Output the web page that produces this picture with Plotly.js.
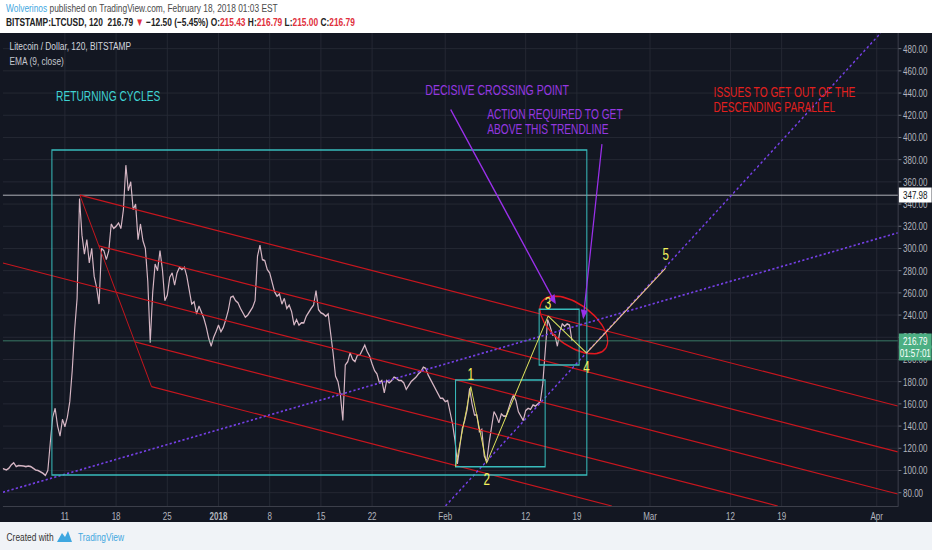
<!DOCTYPE html>
<html>
<head>
<meta charset="utf-8">
<script src="https://cdn.plot.ly/plotly-3.0.1.min.js"></script>
<style>
html, body { margin:0; padding:0; overflow:hidden; background:#131722; width:932px; height:550px; }
#wrap { width:1280px; height:550px; transform: scaleX(0.728125); transform-origin: 0 0; }
#chart { width:1280px; height:550px; }
</style>
</head>
<body>
<div id="wrap"><div id="chart"></div></div>
<script>
// ---------------- DATA ----------------
// LTC/USD closes, one value every 8 hours starting 2017-12-02 00:00
const priceStartUTC = Date.UTC(2017, 11, 2, 0, 0);
const priceStepHours = 8;
const ltcClose = [
  103,102,101,100.5,102,105,107,103.5,104.5,104.5,
  104,103.5,104,103.5,102,100.5,100,99,97.5,95.5,
  100,125,148,156,140,131,146,139.5,148,162,
  190,227,255,345,312,295,308,287,300,275,
  265,250,300,298,290,298,322,318,320,323,
  318,335,375,352,360,335,340,308,322,307,
  300,270,215,260,286,280,298,281,253,258,
  274,278,267,278,283,281,283,275,262,250,
  252,241,248,243,237,229,219,212,220,225,
  231,225,229,236,244,256,257,253,251,246,
  242,238,240,244,247,253,293,303,290,289,
  281,278,270,261,257,259,250,255,246,249,
  243,231,236,231,233,233,239,243,246,249,
  262,245,242,241,239,241,225,206,185,180,
  168,145,195,198,206,200,198,204,204,209,
  213,207,203,196,190,187,179,181,170,181,
  179,181,184,183,181,181,179,173,177,180,
  182,184,187,189,193,192,186,182,178,174,
  169,165,165,162,163,153,142,127,106,122,
  138,145,155,174,160,150,150,135,137,113,
  108,125,138,153,149,143,151,149,149,156,
  163,168,163,153,149,145,154,156,155,159,
  158,160,162,178,205,236,230,222,222,212,
  225,232,230,232,231,216.79
];
const lastPrice = 216.79;
const lastCountdown = '01:57:01';
const refPrice = 347.98;

const xTickVals = ['2017-12-11','2017-12-18','2017-12-25','2018-01-01','2018-01-08','2018-01-15','2018-01-22',
                   '2018-02-01','2018-02-12','2018-02-19','2018-03-01','2018-03-12','2018-03-19','2018-04-01'];
const xTickText = ['11','18','25','<b>2018</b>','8','15','22','Feb','12','19','Mar','12','19','Apr'];
const yTickVals = [80,100,120,140,160,180,200,220,240,260,280,300,320,340,360,380,400,420,440,460,480];

// Elliott wave points 0..5
const waveDates  = ['2018-02-02 09:50','2018-02-04 12:00','2018-02-06 15:36','2018-02-15 01:41','2018-02-20 07:41','2018-03-03 02:53'];
const wavePrices = [103.4, 175.5, 106.5, 239.2, 205.9, 282.2];
const waveLabels = ['', '1', '2', '3', '4', '5'];

// descending parallel channel (red): [date0, price0, date1, price1]
const channelLines = [
  ['2017-12-13 01:12', 348.0, '2018-04-03 21:00', 158.1],
  ['2017-12-15 15:33', 302.4, '2018-04-03 21:00', 116.7],
  ['2017-12-02 12:34', 286.9, '2018-04-03 21:00', 78.8],
  ['2017-12-20 13:39', 215.8, '2018-03-18 11:17', 68.0],
  ['2017-12-22 20:24', 175.5, '2018-02-23 18:43', 68.0],
  ['2017-12-13 01:12', 348.0, '2017-12-22 20:24', 175.5]
];
// rising dotted trendlines (purple)
const trendLines = [
  ['2018-02-01 00:43', 68.0, '2018-04-01 13:12', 494.1],
  ['2017-12-02 12:34', 80.4, '2018-04-03 21:00', 314.1]
];
// cycle boxes (cyan)
const cycleBoxes = [
  ['2017-12-09 05:21', 388.7, '2018-02-20 08:40', 95.9],
  ['2018-02-02 09:50', 181.5, '2018-02-14 15:50', 103.4],
  ['2018-02-13 20:10', 245.2, '2018-02-19 07:26', 195.0]
];
// arrows: [fromDate, fromPrice, toDate, toPrice]
const arrowLines = [
  ['2018-02-01 15:10', 426.6, '2018-02-16 02:53', 250.0],
  ['2018-02-22 10:48', 395.3, '2018-02-19 20:38', 236.2]
];
// ellipse: centre and conjugate semi-axes (days, price)
const ellipseCenter = ['2018-02-18 13:55', 231.1];
const ellipseU = [4.313, -21.41];
const ellipseV = [-1.695, -14.82];

// text notes: [date, price, text, colour, size]
const notes = [
  ['2017-12-09 15:12', 437.4, 'RETURNING CYCLES', '#3fd3d3', 14],
  ['2018-01-29 02:00', 442.5, 'DECISIVE CROSSING POINT', '#9538e0', 14.5],
  ['2018-02-06 13:12', 421.4, 'ACTION REQUIRED TO GET', '#9538e0', 14],
  ['2018-02-06 13:12', 407.9, 'ABOVE THIS TRENDLINE', '#9538e0', 14],
  ['2018-03-09 10:48', 441.2, 'ISSUES TO GET OUT OF THE', '#e3201e', 14],
  ['2018-03-09 10:48', 427.7, 'DESCENDING PARALLEL', '#e3201e', 14]
];

// ---------------- BUILD ----------------
const FONT = '"Liberation Sans", Arial, sans-serif';
function fmt(ms) { return new Date(ms).toISOString().slice(0, 16).replace('T', ' '); }
const priceDates = ltcClose.map((_, i) => fmt(priceStartUTC + i * priceStepHours * 3600000));

const c0 = Date.parse(ellipseCenter[0].replace(' ', 'T') + ':00Z');
const ellX = [], ellY = [];
for (let k = 0; k <= 72; k++) {
  const t = 2 * Math.PI * k / 72;
  ellX.push(fmt(c0 + (ellipseU[0] * Math.cos(t) + ellipseV[0] * Math.sin(t)) * 86400000));
  ellY.push(ellipseCenter[1] + ellipseU[1] * Math.cos(t) + ellipseV[1] * Math.sin(t));
}

const traces = [
  { x: priceDates, y: ltcClose, type: 'scatter', mode: 'lines',
    line: { color: '#d6b6c4', width: 1.6 }, hoverinfo: 'skip' },
  { x: ellX, y: ellY, type: 'scatter', mode: 'lines',
    line: { color: '#e3181f', width: 1.7 }, hoverinfo: 'skip' }
];

const shapes = [];
// reference lines
shapes.push({ type: 'line', xref: 'paper', x0: 0, x1: 1, yref: 'y', y0: refPrice, y1: refPrice,
  line: { color: '#c9cbd1', width: 1 } });
shapes.push({ type: 'line', xref: 'paper', x0: 0, x1: 1, yref: 'y', y0: lastPrice, y1: lastPrice,
  line: { color: 'rgba(80,175,140,0.75)', width: 1 } });
channelLines.forEach(l => shapes.push({ type: 'line', xref: 'x', yref: 'y', x0: l[0], y0: l[1], x1: l[2], y1: l[3],
  line: { color: '#c8161e', width: 1.2 } }));
trendLines.forEach(l => shapes.push({ type: 'line', xref: 'x', yref: 'y', x0: l[0], y0: l[1], x1: l[2], y1: l[3],
  line: { color: '#7540e6', width: 1.7, dash: 'dot' } }));
cycleBoxes.forEach(b => shapes.push({ type: 'rect', xref: 'x', yref: 'y', x0: b[0], y0: b[1], x1: b[2], y1: b[3],
  line: { color: '#38bcbc', width: 1.4 }, fillcolor: 'rgba(0,0,0,0)' }));
const waveColors = ['#dede55', '#e6e65a', '#e2e65e', '#d8e25e', '#f2c68e'];
for (let i = 0; i < waveDates.length - 1; i++) {
  shapes.push({ type: 'line', xref: 'x', yref: 'y', x0: waveDates[i], y0: wavePrices[i], x1: waveDates[i + 1], y1: wavePrices[i + 1],
    line: { color: waveColors[i], width: 1.2 } });
}
// header / footer panels
shapes.push({ type: 'rect', xref: 'paper', yref: 'paper', x0: -0.02, x1: 1.05, y0: 1, y1: 1.09,
  fillcolor: '#ffffff', line: { width: 0 }, layer: 'above' });
shapes.push({ type: 'rect', xref: 'paper', yref: 'paper', x0: -0.02, x1: 1.05, y0: -0.12, y1: -0.034,
  fillcolor: '#f0f3f7', line: { width: 0 }, layer: 'above' });
// small logo mark in footer
function pX(p) { return (p / 0.728125 - 4) / 1229; }
function pY(p) { return (506 - p) / 473; }
shapes.push({ type: 'path', xref: 'paper', yref: 'paper',
  path: `M ${pX(57)},${pY(542)} L ${pX(62)},${pY(533)} L ${pX(65)},${pY(537)} L ${pX(68)},${pY(531)} L ${pX(72)},${pY(542)} Z`,
  fillcolor: '#3fa7e0', line: { width: 0 }, layer: 'above' });

const ann = [];
const red = '#e0303c';
ann.push({ xref: 'paper', yref: 'paper', x: 0, y: 1, xanchor: 'left', yanchor: 'middle', xshift: 2, yshift: 25, showarrow: false,
  text: '<span style="color:#3fa7e0">Wolverinos</span> published on TradingView.com, February 18, 2018 01:03 EST',
  font: { family: FONT, size: 11.5, color: '#4a4a4a' } });
ann.push({ xref: 'paper', yref: 'paper', x: 0, y: 1, xanchor: 'left', yanchor: 'middle', xshift: 2, yshift: 11, showarrow: false,
  text: `<b>BITSTAMP:LTCUSD, 120  216.79 <span style="color:${red}">▼</span> −12.50 (−5.45%) O:<span style="color:${red}">215.43</span> H:<span style="color:${red}">216.79</span> L:<span style="color:${red}">215.00</span> C:<span style="color:${red}">216.79</span></b>`,
  font: { family: FONT, size: 11.5, color: '#222222' } });
ann.push({ xref: 'paper', yref: 'paper', x: 0, y: 1, xanchor: 'left', yanchor: 'middle', xshift: 7, yshift: -13, showarrow: false,
  text: 'Litecoin / Dollar, 120, BITSTAMP', font: { family: FONT, size: 11.5, color: '#d1d4dc' } });
ann.push({ xref: 'paper', yref: 'paper', x: 0, y: 1, xanchor: 'left', yanchor: 'middle', xshift: 7, yshift: -28, showarrow: false,
  text: 'EMA (9, close)', font: { family: FONT, size: 11.5, color: '#c3c6ce' } });
ann.push({ xref: 'paper', yref: 'paper', x: 0, y: 1, xanchor: 'left', yanchor: 'middle', xshift: 3, yshift: -504, showarrow: false,
  text: 'Created with', font: { family: FONT, size: 11.5, color: '#333333' } });
ann.push({ xref: 'paper', yref: 'paper', x: 0, y: 1, xanchor: 'left', yanchor: 'middle', xshift: 101, yshift: -504, showarrow: false,
  text: 'TradingView', font: { family: FONT, size: 11.5, color: '#3fa7e0' } });

notes.forEach(n => ann.push({ xref: 'x', yref: 'y', x: n[0], y: n[1], xanchor: 'left', yanchor: 'middle', showarrow: false,
  text: n[2], font: { family: FONT, size: n[4], color: n[3] } }));

const waveShift = [0, 12, -16, 12, -15, 14];
for (let i = 1; i < waveDates.length; i++) {
  ann.push({ xref: 'x', yref: 'y', x: waveDates[i], y: wavePrices[i], yshift: waveShift[i], showarrow: false,
    text: waveLabels[i], font: { family: FONT, size: 16, color: '#f3f35e' } });
}
arrowLines.forEach(a => ann.push({ xref: 'x', yref: 'y', axref: 'x', ayref: 'y', x: a[2], y: a[3], ax: a[0], ay: a[1],
  text: '', showarrow: true, arrowhead: 2, arrowsize: 1.1, arrowwidth: 1.7, arrowcolor: '#9a30ea', standoff: 0 }));

// price tags on the right axis
ann.push({ xref: 'paper', x: 1, xanchor: 'left', xshift: 1, yref: 'y', y: refPrice, yanchor: 'middle', showarrow: false,
  text: refPrice.toFixed(2), bgcolor: '#ffffff', width: 42, borderpad: 1, font: { family: FONT, size: 11, color: '#131722' } });
ann.push({ xref: 'paper', x: 1, xanchor: 'left', xshift: 1, yref: 'y', y: lastPrice, yanchor: 'middle', showarrow: false,
  text: lastPrice.toFixed(2), bgcolor: '#4caf83', width: 42, borderpad: 1, font: { family: FONT, size: 11, color: '#ffffff' } });
ann.push({ xref: 'paper', x: 1, xanchor: 'left', xshift: 1, yref: 'y', y: lastPrice, yanchor: 'middle', yshift: -12, showarrow: false,
  text: lastCountdown, bgcolor: '#4caf83', width: 42, borderpad: 1, font: { family: FONT, size: 11, color: '#ffffff' } });

const layout = {
  width: 1280, height: 550,
  margin: { l: 4, r: 47, t: 33, b: 44 },
  paper_bgcolor: '#131722', plot_bgcolor: '#131722',
  showlegend: false,
  font: { family: FONT, color: '#b2b5be' },
  xaxis: {
    type: 'date', range: ['2017-12-02 12:34', '2018-04-03 21:00'],
    tickmode: 'array', tickvals: xTickVals, ticktext: xTickText,
    tickfont: { family: FONT, size: 11, color: '#b2b5be' },
    showgrid: true, gridcolor: '#272b37', gridwidth: 1, zeroline: false,
    showline: true, linecolor: '#434651', linewidth: 1, ticks: '', fixedrange: true
  },
  yaxis: {
    side: 'right', range: [68.0, 494.1],
    tickmode: 'array', tickvals: yTickVals, tickformat: '.2f',
    tickfont: { family: FONT, size: 11, color: '#b2b5be' },
    ticks: 'outside', ticklen: 4, tickcolor: '#7a7e88',
    showgrid: true, gridcolor: '#272b37', gridwidth: 1, zeroline: false,
    showline: true, linecolor: '#434651', linewidth: 1, fixedrange: true
  },
  shapes: shapes,
  annotations: ann
};

Plotly.newPlot('chart', traces, layout, { displayModeBar: false, staticPlot: true });
</script>
</body>
</html>
